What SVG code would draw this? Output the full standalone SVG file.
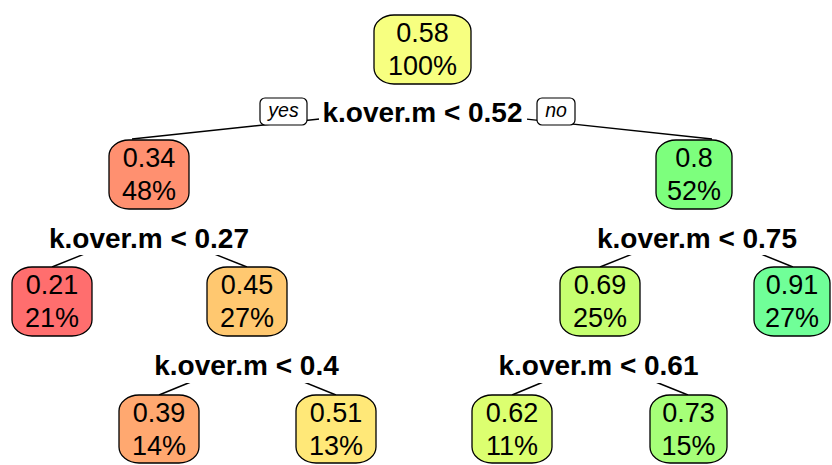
<svg xmlns="http://www.w3.org/2000/svg" width="832" height="465" viewBox="0 0 832 465">
  <style>
    .box { stroke: #000; stroke-width: 1.3; }
    .val { font-family: "Liberation Sans", Arial, sans-serif; font-size: 27px; text-anchor: middle; fill: #000; }
    .split { font-family: "Liberation Sans", Arial, sans-serif; font-size: 28px; font-weight: bold; text-anchor: middle; fill: #000; }
    .yn { font-family: "Liberation Sans", Arial, sans-serif; font-size: 19.5px; font-style: italic; text-anchor: middle; fill: #000; }
    .tag { fill: #fff; stroke: #000; stroke-width: 1.2; }
    .bg { fill: #fff; }
    .edge { stroke: #000; stroke-width: 1.4; fill: none; }
  </style>
  <rect width="832" height="465" fill="#fff"/>

  <!-- branches: drawn first so the label backgrounds and boxes sit on top -->
  <g id="connectors">
    <line class="edge" x1="422.5" y1="108" x2="132" y2="139"/>
    <line class="edge" x1="422.5" y1="108" x2="712" y2="139"/>
    <line class="edge" x1="149" y1="228" x2="52" y2="267"/>
    <line class="edge" x1="149" y1="228" x2="247" y2="267"/>
    <line class="edge" x1="697" y1="228" x2="600" y2="267"/>
    <line class="edge" x1="697" y1="228" x2="793" y2="267"/>
    <line class="edge" x1="247" y1="359" x2="159" y2="395"/>
    <line class="edge" x1="247" y1="359" x2="336" y2="395"/>
    <line class="edge" x1="598.5" y1="359" x2="512" y2="395"/>
    <line class="edge" x1="598.5" y1="359" x2="688" y2="395"/>
  </g>

  <!-- split labels -->
  <g id="split-root">
    <rect class="bg" x="319" y="96" width="208" height="32"/>
    <text class="split" x="422.5" y="121.5">k.over.m &lt; 0.52</text>
    <rect class="tag" x="260" y="98" width="47" height="27" rx="5"/>
    <text class="yn" x="283.5" y="117">yes</text>
    <rect class="tag" x="537" y="98" width="38" height="27" rx="5"/>
    <text class="yn" x="556" y="117">no</text>
  </g>
  <g id="split-left">
    <rect class="bg" x="46" y="224" width="206" height="31"/>
    <text class="split" x="149" y="248">k.over.m &lt; 0.27</text>
  </g>
  <g id="split-right">
    <rect class="bg" x="594" y="224" width="206" height="31"/>
    <text class="split" x="697" y="248">k.over.m &lt; 0.75</text>
  </g>
  <g id="split-left-right">
    <rect class="bg" x="151" y="353" width="191" height="30"/>
    <text class="split" x="246.5" y="375">k.over.m &lt; 0.4</text>
  </g>
  <g id="split-right-left">
    <rect class="bg" x="496" y="353" width="205" height="30"/>
    <text class="split" x="598.5" y="375">k.over.m &lt; 0.61</text>
  </g>

  <!-- nodes -->
  <g id="node-root">
    <rect class="box" x="374" y="15" width="97" height="69" rx="20" ry="16" fill="#F7FF80"/>
    <text class="val" x="422.5" y="42">0.58</text>
    <text class="val" x="422.5" y="75">100%</text>
  </g>
  <g id="node-2">
    <rect class="box" x="109" y="140" width="80" height="69" rx="20" ry="16" fill="#FF9070"/>
    <text class="val" x="149" y="167">0.34</text>
    <text class="val" x="149" y="200">48%</text>
  </g>
  <g id="node-3">
    <rect class="box" x="656" y="140" width="76" height="69" rx="20" ry="16" fill="#7DFF7D"/>
    <text class="val" x="694" y="167">0.8</text>
    <text class="val" x="694" y="200">52%</text>
  </g>
  <g id="node-4">
    <rect class="box" x="12" y="267" width="80" height="69" rx="20" ry="16" fill="#FF6E6E"/>
    <text class="val" x="52" y="294">0.21</text>
    <text class="val" x="52" y="327">21%</text>
  </g>
  <g id="node-5">
    <rect class="box" x="207" y="267" width="80" height="69" rx="20" ry="16" fill="#FFC870"/>
    <text class="val" x="247" y="294">0.45</text>
    <text class="val" x="247" y="327">27%</text>
  </g>
  <g id="node-6">
    <rect class="box" x="560" y="267" width="80" height="69" rx="20" ry="16" fill="#C6FF70"/>
    <text class="val" x="600" y="294">0.69</text>
    <text class="val" x="600" y="327">25%</text>
  </g>
  <g id="node-7">
    <rect class="box" x="754" y="267" width="76" height="69" rx="20" ry="16" fill="#70FF98"/>
    <text class="val" x="792" y="294">0.91</text>
    <text class="val" x="792" y="327">27%</text>
  </g>
  <g id="node-10">
    <rect class="box" x="119" y="395" width="80" height="68" rx="20" ry="16" fill="#FFA870"/>
    <text class="val" x="159" y="422">0.39</text>
    <text class="val" x="159" y="455">14%</text>
  </g>
  <g id="node-11">
    <rect class="box" x="296" y="395" width="80" height="68" rx="20" ry="16" fill="#FFE878"/>
    <text class="val" x="336" y="422">0.51</text>
    <text class="val" x="336" y="455">13%</text>
  </g>
  <g id="node-12">
    <rect class="box" x="472" y="395" width="80" height="68" rx="20" ry="16" fill="#DCFF70"/>
    <text class="val" x="512" y="422">0.62</text>
    <text class="val" x="512" y="455">11%</text>
  </g>
  <g id="node-13">
    <rect class="box" x="650" y="395" width="77" height="68" rx="20" ry="16" fill="#A6FF78"/>
    <text class="val" x="688.5" y="422">0.73</text>
    <text class="val" x="688.5" y="455">15%</text>
  </g>
</svg>
